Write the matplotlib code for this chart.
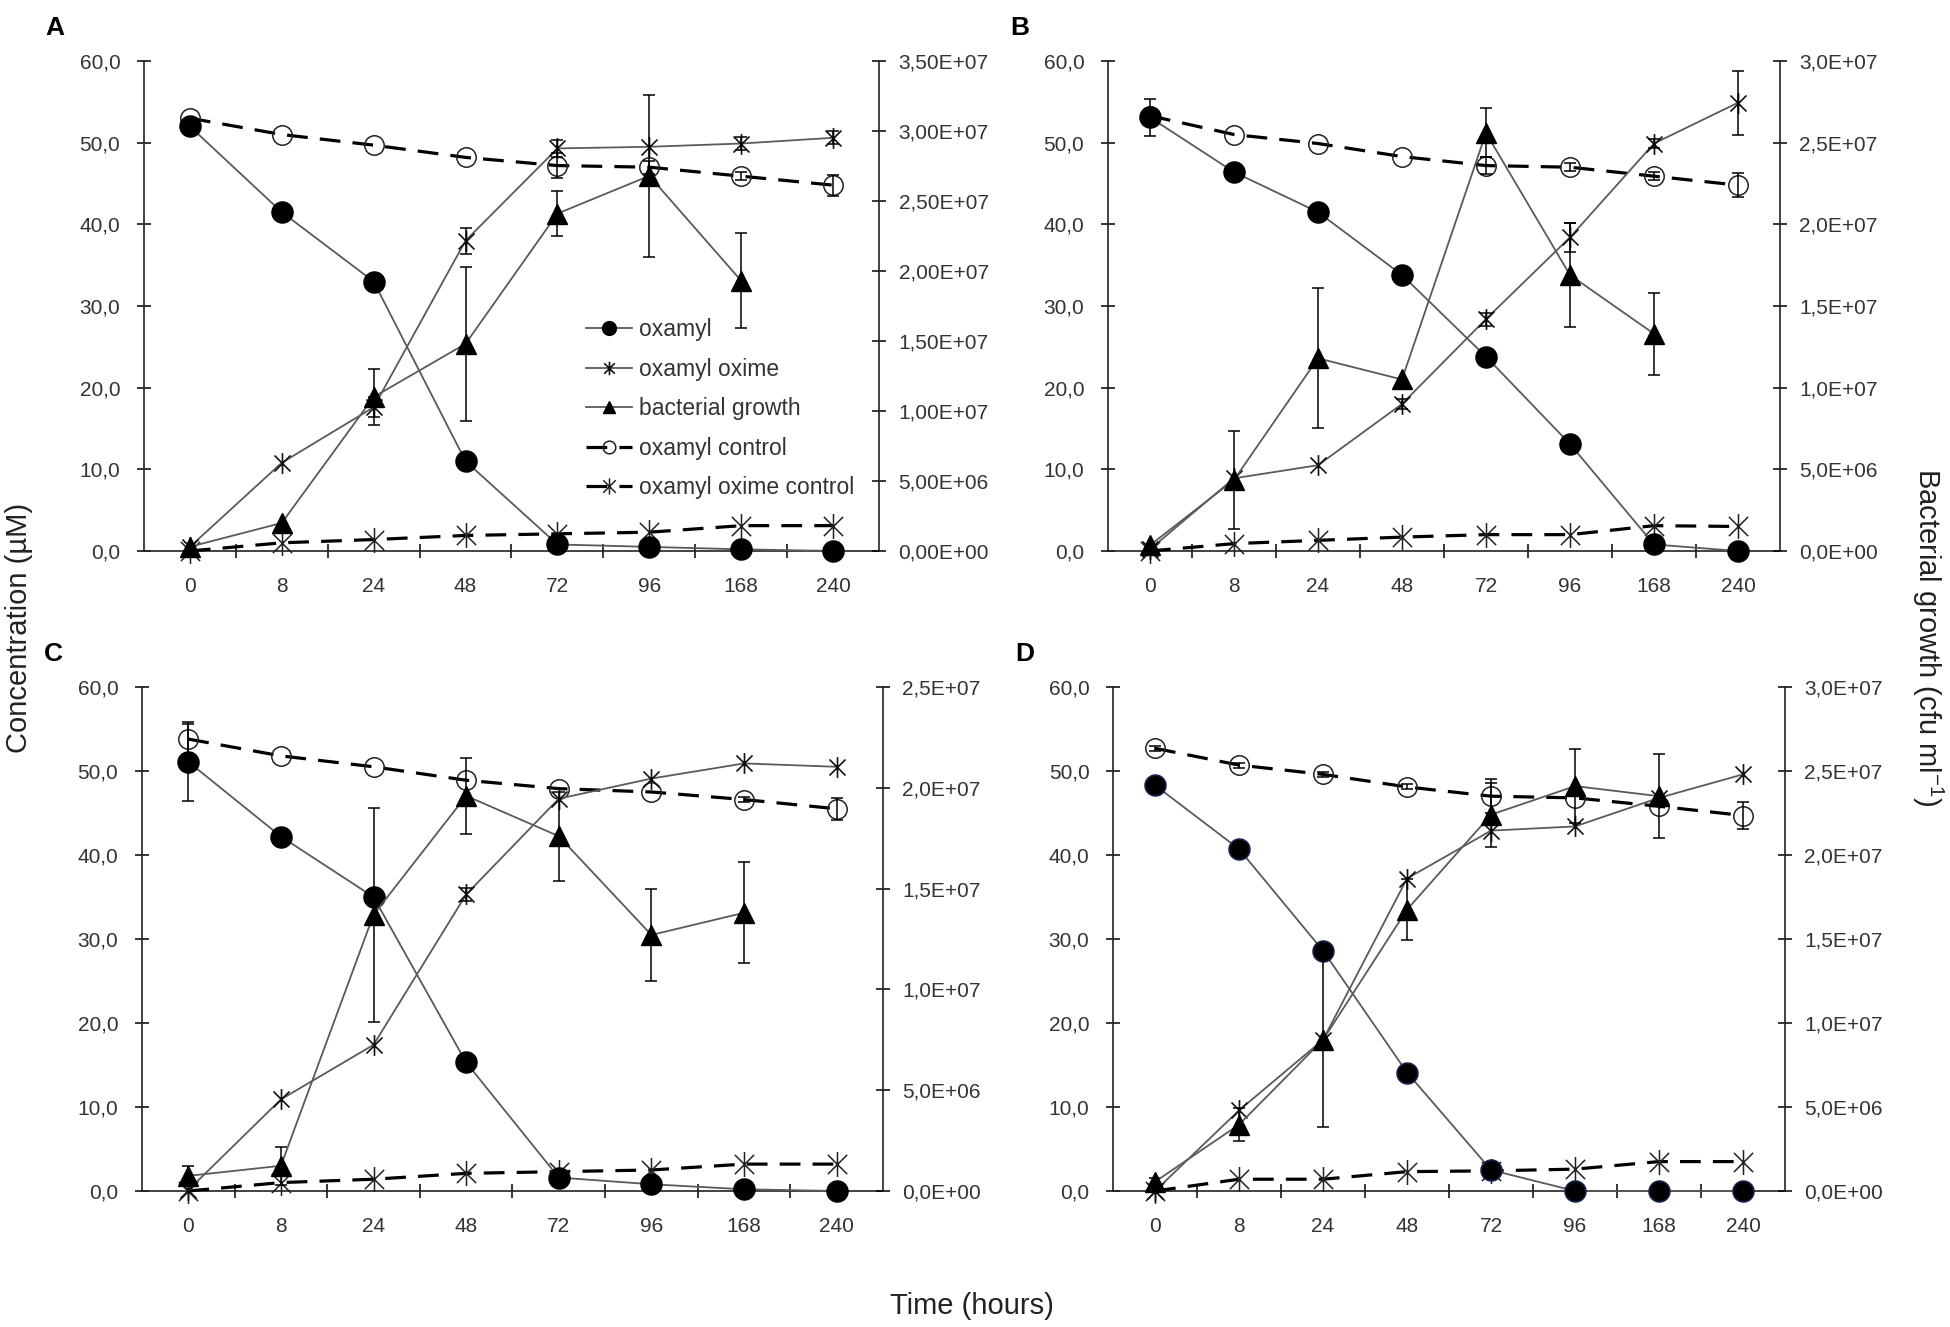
import numpy as np
import matplotlib.pyplot as plt
from matplotlib.path import Path
from matplotlib.ticker import FuncFormatter

plt.rcParams['font.family'] = ['Liberation Sans', 'DejaVu Sans']
plt.rcParams['mathtext.default'] = 'regular'

# ---------------------------------------------------------------------------
# data; growth in cfu/ml, the rest in uM
# ---------------------------------------------------------------------------
times = ['0', '8', '24', '48', '72', '96', '168', '240']
nan = np.nan

# panel A
a_oxamyl = [52.0, 41.5, 33.0, 11.0, 0.8, 0.5, 0.2, 0.0]
a_oxamyl_err = [0, 0, 0, 0, 0, 0, 0, 0]
a_oxime = [0.5, 10.8, 17.6, 38.0, 49.3, 49.5, 49.9, 50.6]
a_oxime_err = [0, 0, 1.2, 1.6, 1.0, 0, 0.8, 0.8]
a_growth = [3.0e5, 2.0e6, 1.10e7, 1.48e7, 2.41e7, 2.68e7, 1.93e7, nan]
a_growth_err = [0, 0, 2.0e6, 5.5e6, 1.6e6, 5.8e6, 3.4e6, 0]
a_control = [53.0, 51.0, 49.7, 48.2, 47.2, 47.0, 45.9, 44.8]
a_control_err = [0, 0, 0, 0, 1.5, 0.8, 0.5, 1.3]
a_oxime_ctrl = [0.0, 1.0, 1.4, 1.9, 2.1, 2.3, 3.1, 3.1]

# panel B
b_oxamyl = [53.1, 46.4, 41.5, 33.8, 23.8, 13.1, 0.8, 0.0]
b_oxamyl_err = [2.3, 1.0, 0, 0.5, 0, 0, 0, 0]
b_oxime = [0.2, 8.9, 10.5, 18.0, 28.4, 38.4, 49.9, 54.9]
b_oxime_err = [0, 0, 0, 0.6, 0.8, 1.8, 0.5, 3.9]
b_growth = [3.5e5, 4.35e6, 1.18e7, 1.05e7, 2.56e7, 1.69e7, 1.33e7, nan]
b_growth_err = [0, 3.0e6, 4.3e6, 0, 1.5e6, 3.2e6, 2.5e6, 0]
b_control = [53.3, 51.0, 49.9, 48.3, 47.2, 47.0, 45.9, 44.8]
b_control_err = [0, 0, 0, 0, 1.0, 0.5, 0.5, 1.5]
b_oxime_ctrl = [0.0, 0.9, 1.3, 1.7, 2.0, 2.0, 3.1, 3.0]

# panel C
c_oxamyl = [51.1, 42.2, 35.0, 15.3, 1.6, 0.8, 0.2, 0.0]
c_oxamyl_err = [4.7, 0, 0, 0, 0, 0, 0, 0]
c_oxime = [0.1, 10.9, 17.4, 35.3, 46.7, 49.1, 50.9, 50.5]
c_oxime_err = [0, 0, 0, 0.8, 0, 0, 0, 0]
c_growth = [7.5e5, 1.25e6, 1.37e7, 1.96e7, 1.76e7, 1.27e7, 1.38e7, nan]
c_growth_err = [5.0e5, 9.5e5, 5.3e6, 1.9e6, 2.2e6, 2.3e6, 2.5e6, 0]
c_control = [53.8, 51.8, 50.5, 48.9, 47.9, 47.5, 46.6, 45.5]
c_control_err = [1.8, 0, 0, 0, 0, 0, 0.3, 1.3]
c_oxime_ctrl = [0.0, 1.0, 1.4, 2.1, 2.3, 2.5, 3.2, 3.2]

# panel D
d_oxamyl = [48.3, 40.7, 28.6, 14.1, 2.5, 0.0, 0.0, 0.0]
d_oxamyl_err = [0, 0, 0, 0, 0, 0, 0, 0]
d_oxime = [0.0, 9.6, 18.0, 37.2, 42.9, 43.4, 46.8, 49.6]
d_oxime_err = [0, 0, 0, 0, 0, 0, 0, 0]
d_growth = [5.5e5, 3.95e6, 9.0e6, 1.675e7, 2.24e7, 2.41e7, 2.35e7, nan]
d_growth_err = [2.5e5, 1.0e6, 5.2e6, 1.8e6, 1.9e6, 2.2e6, 2.5e6, 0]
d_control = [52.7, 50.7, 49.6, 48.1, 47.0, 46.8, 45.8, 44.7]
d_control_err = [0.3, 0.3, 0.3, 0.3, 2.0, 0, 0, 1.6]
d_oxime_ctrl = [0.0, 1.4, 1.4, 2.3, 2.4, 2.6, 3.5, 3.5]

# right axis ranges / label formats
growth_max = [3.5e7, 3.0e7, 2.5e7, 3.0e7]
growth_fmt = ['{:.2E}', '{:.1E}', '{:.1E}', '{:.1E}']

# ---------------------------------------------------------------------------
# asterisk marker like Excel's (X plus vertical bar)
star = Path([(-1, -1), (1, 1), (-1, 1), (1, -1), (0, -1.3), (0, 1.3)],
            [Path.MOVETO, Path.LINETO, Path.MOVETO, Path.LINETO, Path.MOVETO, Path.LINETO])

GREY = '#5a5a5a'
TXT = '#333333'

fig = plt.figure(figsize=(19.5, 13.27), dpi=100)


def errbars(ax, x, y, err, z=4):
    y = np.asarray(y, float)
    err = np.asarray(err, float)
    m = err > 0
    if m.any():
        ax.errorbar(x[m], y[m], yerr=err[m], fmt='none', ecolor='black',
                    elinewidth=1.1, capsize=4.5, capthick=1.1, zorder=z, clip_on=False)


def draw_panel(rect, letter, oxamyl, oxamyl_err, oxime, oxime_err, growth, growth_err,
               control, control_err, oxime_ctrl, gmax, gfmt, dot_edge='black'):
    ax = fig.add_axes(rect)
    x = np.arange(len(times))

    h_ctrl, = ax.plot(x, control, color='black', lw=2.3, dashes=(6.5, 3.8),
                      marker='o', ms=14, mfc='none', mec='#222222', mew=1.1,
                      clip_on=False, zorder=3, label='oxamyl control')
    h_octrl, = ax.plot(x, oxime_ctrl, color='black', lw=2.3, dashes=(6.5, 3.8),
                       marker=star, ms=18, mfc='none', mec='#222222', mew=1.1,
                       clip_on=False, zorder=3, label='oxamyl oxime control')
    h_oxime, = ax.plot(x, oxime, color=GREY, lw=1.3, marker=star, ms=15,
                       mfc='none', mec='#111111', mew=1.2, clip_on=False, zorder=4,
                       label='oxamyl oxime')
    h_oxamyl, = ax.plot(x, oxamyl, color=GREY, lw=1.3, marker='o', ms=15,
                        mfc='black', mec=dot_edge, mew=1.2, clip_on=False, zorder=5,
                        label='oxamyl')
    errbars(ax, x, control, control_err)
    errbars(ax, x, oxime, oxime_err)
    errbars(ax, x, oxamyl, oxamyl_err)

    ax.set_xlim(-0.5, len(times) - 0.5)
    ax.set_ylim(0, 60)
    ax.set_yticks(np.arange(0, 61, 10))
    ax.yaxis.set_major_formatter(FuncFormatter(lambda v, _: f'{v:.1f}'.replace('.', ',')))
    ax.set_xticks(x)
    ax.set_xticklabels(times)
    ax.set_xticks(x[:-1] + 0.5, minor=True)
    ax.tick_params(axis='x', which='major', length=0, pad=19, labelsize=15, labelcolor=TXT)
    ax.tick_params(axis='x', which='minor', direction='inout', length=10, width=1.1)
    ax.tick_params(axis='y', direction='inout', length=10, width=1.1, pad=12,
                   labelsize=15, labelcolor=TXT)
    for s in ['top', 'right']:
        ax.spines[s].set_visible(False)
    for s in ['left', 'bottom']:
        ax.spines[s].set_linewidth(1.2)
        ax.spines[s].set_color('#222222')

    ax2 = ax.twinx()
    h_growth, = ax2.plot(x, growth, color=GREY, lw=1.3, marker='^', ms=14,
                         mfc='black', mec='black', clip_on=False, zorder=5,
                         label='bacterial growth')
    errbars(ax2, x, growth, growth_err)
    ax2.set_ylim(0, gmax)
    ax2.set_yticks(np.arange(0, gmax + 1, 5e6))
    ax2.yaxis.set_major_formatter(FuncFormatter(lambda v, _: gfmt.format(v).replace('.', ',')))
    ax2.tick_params(axis='y', direction='inout', length=10, width=1.1, pad=9,
                    labelsize=15, labelcolor=TXT)
    for s in ['top', 'left', 'bottom']:
        ax2.spines[s].set_visible(False)
    ax2.spines['right'].set_linewidth(1.2)
    ax2.spines['right'].set_color('#222222')

    fig.text(rect[0] - 0.0455, rect[1] + rect[3] + 0.025, letter, fontsize=19,
             fontweight='bold', ha='center', va='center')
    return ax, ax2, [h_oxamyl, h_oxime, h_growth, h_ctrl, h_octrl]


rects = [[0.0738, 0.5848, 0.3770, 0.3692],
         [0.5682, 0.5848, 0.3446, 0.3692],
         [0.0728, 0.1025, 0.3800, 0.3798],
         [0.5708, 0.1025, 0.3446, 0.3798]]

axA, axA2, handles = draw_panel(rects[0], 'A', a_oxamyl, a_oxamyl_err, a_oxime, a_oxime_err,
                                a_growth, a_growth_err, a_control, a_control_err,
                                a_oxime_ctrl, growth_max[0], growth_fmt[0])
draw_panel(rects[1], 'B', b_oxamyl, b_oxamyl_err, b_oxime, b_oxime_err,
           b_growth, b_growth_err, b_control, b_control_err,
           b_oxime_ctrl, growth_max[1], growth_fmt[1])
draw_panel(rects[2], 'C', c_oxamyl, c_oxamyl_err, c_oxime, c_oxime_err,
           c_growth, c_growth_err, c_control, c_control_err,
           c_oxime_ctrl, growth_max[2], growth_fmt[2])
draw_panel(rects[3], 'D', d_oxamyl, d_oxamyl_err, d_oxime, d_oxime_err,
           d_growth, d_growth_err, d_control, d_control_err,
           d_oxime_ctrl, growth_max[3], growth_fmt[3], dot_edge='#15234a')

leg = axA2.legend(handles, [h.get_label() for h in handles], loc='upper left',
                  bbox_to_anchor=(0.3005, 0.7600), bbox_transform=fig.transFigure,
                  frameon=False, fontsize=16.5, handlelength=2.0, handletextpad=0.3,
                  labelspacing=0.72, borderpad=0, borderaxespad=0, numpoints=1,
                  markerscale=0.65)
for t in leg.get_texts():
    t.set_color(TXT)

fig.text(0.0095, 0.527, 'Concentration (µM)', rotation=90, fontsize=21,
         ha='center', va='center', color='#222222')
fig.text(0.9885, 0.52, r'Bacterial growth (cfu ml$^{-1}$)', rotation=270, fontsize=21,
         ha='center', va='center', color='#222222')
fig.text(0.4985, 0.016, 'Time (hours)', fontsize=21, ha='center', va='center',
         color='#222222')

fig.savefig('out.png', dpi=100)
